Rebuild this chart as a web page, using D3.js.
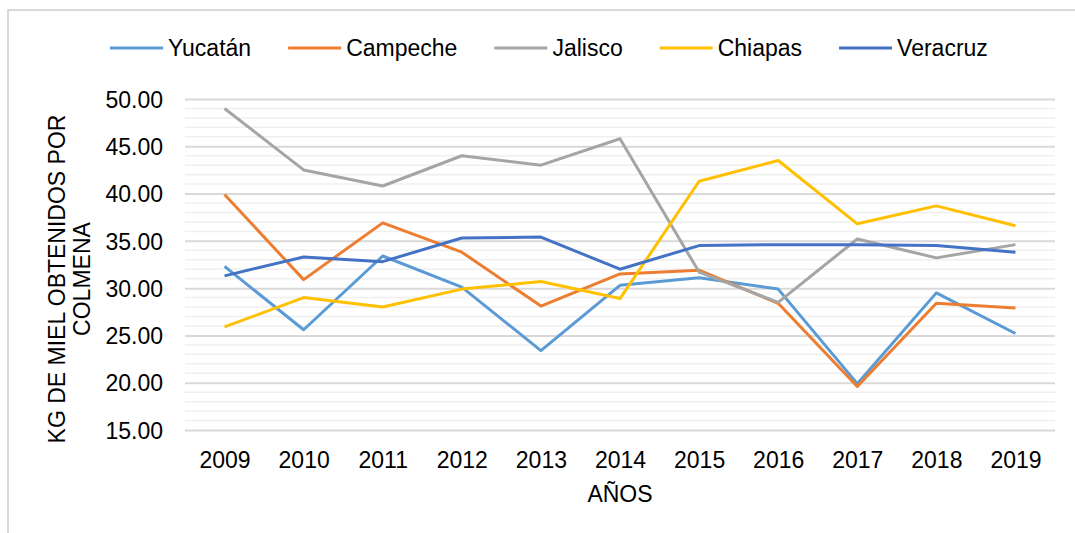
<!DOCTYPE html>
<html>
<head>
<meta charset="utf-8">
<script src="https://cdn.jsdelivr.net/npm/d3@7"></script>
<style>
  body { margin: 0; background: #fff; }
  text { font-family: "Liberation Sans", Arial, sans-serif; fill: #000; }
</style>
</head>
<body>
<script>
var w = 1075,
    h = 533;

// data
var years = ["2009", "2010", "2011", "2012", "2013", "2014", "2015", "2016", "2017", "2018", "2019"];
var yucatan  = [32.3, 25.6, 33.4, 30.1, 23.4, 30.3, 31.1, 29.9, 19.9, 29.5, 25.2];
var campeche = [39.9, 30.9, 36.9, 33.8, 28.1, 31.5, 31.9, 28.4, 19.6, 28.4, 27.9];
var jalisco  = [49.0, 42.5, 40.8, 44.0, 43.0, 45.8, 31.7, 28.5, 35.2, 33.2, 34.6];
var chiapas  = [25.9, 29.0, 28.0, 29.9, 30.7, 28.9, 41.3, 43.5, 36.8, 38.7, 36.6];
var veracruz = [31.3, 33.3, 32.8, 35.3, 35.4, 32.0, 34.5, 34.6, 34.6, 34.5, 33.8];
var seriesNames = ["Yucatán", "Campeche", "Jalisco", "Chiapas", "Veracruz"];
var seriesColors = ["#5B9BD5", "#ED7D31", "#A5A5A5", "#FFC000", "#4472C4"];
var yTicks = [15, 20, 25, 30, 35, 40, 45, 50];

var series = [yucatan, campeche, jalisco, chiapas, veracruz].map(function(vals, i) {
  return { name: seriesNames[i], color: seriesColors[i], values: vals };
});

var margin = { left: 185, right: 20, top: 99, bottom: 103 };

var svg = d3.select("body").append("svg")
    .attr("width", w)
    .attr("height", h);

// chart frame
svg.append("path")
    .attr("d", "M8," + h + "V10H" + w)
    .attr("fill", "none")
    .attr("stroke", "#d9d9d9")
    .attr("stroke-width", 2);

var x = d3.scalePoint()
    .domain(years)
    .range([margin.left, w - margin.right])
    .padding(0.5);

var y = d3.scaleLinear()
    .domain([15, 50])
    .range([h - margin.bottom, margin.top]);

// minor gridlines every 1
svg.append("g").selectAll("line")
    .data(d3.range(16, 50).filter(function(v) { return v % 5 !== 0; }))
  .enter().append("line")
    .attr("x1", margin.left)
    .attr("x2", w - margin.right)
    .attr("y1", function(d) { return y(d); })
    .attr("y2", function(d) { return y(d); })
    .attr("stroke", "#efefef")
    .attr("stroke-width", 1.5);

// major gridlines + labels
var yAxis = d3.axisLeft(y)
    .tickValues(yTicks)
    .tickFormat(d3.format(".2f"))
    .tickSize(-(w - margin.left - margin.right))
    .tickPadding(22);

var gy = svg.append("g")
    .attr("transform", "translate(" + margin.left + ",0)")
    .call(yAxis);
gy.select(".domain").remove();
gy.selectAll(".tick line").attr("stroke", "#d9d9d9").attr("stroke-width", 2);
gy.selectAll(".tick text")
    .style("font-size", "23px")
    .attr("dy", "0.36em");

var xAxis = d3.axisBottom(x).tickSize(0).tickPadding(22);
var gx = svg.append("g")
    .attr("transform", "translate(0," + y(15) + ")")
    .call(xAxis);
gx.select(".domain").remove();
gx.selectAll(".tick text").style("font-size", "23px");

// lines
var line = d3.line()
    .x(function(d, i) { return x(years[i]); })
    .y(function(d) { return y(d); });

svg.append("g").selectAll("path")
    .data(series)
  .enter().append("path")
    .attr("d", function(d) { return line(d.values); })
    .attr("fill", "none")
    .attr("stroke", function(d) { return d.color; })
    .attr("stroke-width", 3)
    .attr("stroke-linejoin", "round");

// axis titles
svg.append("text")
    .attr("x", (margin.left + w - margin.right) / 2)
    .attr("y", 502)
    .attr("text-anchor", "middle")
    .style("font-size", "23px")
    .text("AÑOS");

var yt = svg.append("text")
    .attr("transform", "translate(65,279) rotate(-90)")
    .attr("text-anchor", "middle")
    .style("font-size", "23px");
yt.append("tspan").attr("x", 0).attr("y", 0).text("KG DE MIEL OBTENIDOS POR");
yt.append("tspan").attr("x", 0).attr("y", 25).text("COLMENA");

// legend
var lx = 110;
series.forEach(function(s) {
  var g = svg.append("g").attr("transform", "translate(" + lx + ",48)");
  g.append("line")
      .attr("x1", 0).attr("x2", 53)
      .attr("stroke", s.color)
      .attr("stroke-width", 3);
  var t = g.append("text")
      .attr("x", 58)
      .attr("y", 8)
      .style("font-size", "23px")
      .text(s.name);
  lx += 58 + t.node().getComputedTextLength() + 37;
});
</script>
</body>
</html>
